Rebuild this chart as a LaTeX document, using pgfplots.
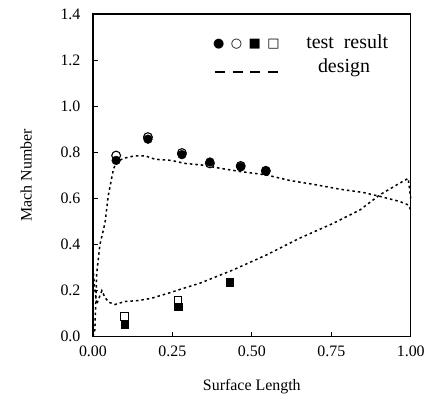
\documentclass[border=0pt]{standalone}
\usepackage{pgfplots}
\pgfplotsset{compat=1.18}
\usepackage{fontspec}
\setmainfont{Liberation Serif}
\newfontfamily\symfont{DejaVu Sans}
\begin{document}
\begin{tikzpicture}
\begin{axis}[
  scale only axis,
  width=318bp, height=323bp,
  xmin=0, xmax=1, ymin=0, ymax=1.4,
  xtick={0,0.25,0.5,0.75,1},
  ytick={0,0.2,0.4,0.6,0.8,1.0,1.2,1.4},
  /pgf/number format/assume math mode=true,
  tick align=inside,
  xtick pos=bottom, ytick pos=left,
  major tick length=5bp,
  tick style={black, line width=0.8bp},
  axis line style={line width=1.2bp},
  ticklabel style={font=\fontsize{16}{18}\selectfont},
  xticklabel style={yshift=-6bp, /pgf/number format/.cd,fixed,fixed zerofill,precision=2},
  yticklabel style={xshift=-9bp, /pgf/number format/.cd,fixed,fixed zerofill,precision=1},
  label style={font=\fontsize{16}{18}\selectfont},
  xlabel={Surface Length},
  ylabel={Mach Number},
  xlabel style={yshift=-15bp},
  ylabel style={yshift=22bp},
  clip=false,
]
% design upper surface
\addplot[black, line width=1.5bp, dash pattern=on 2.5bp off 3bp] coordinates {
(0.0,0.0) (0.006,0.03) (0.012,0.276) (0.022,0.40) (0.038,0.494) (0.048,0.61)
(0.064,0.724) (0.074,0.76) (0.10,0.775) (0.132,0.785) (0.164,0.785) (0.195,0.77)
(0.247,0.765) (0.289,0.752) (0.342,0.745) (0.40,0.731) (0.462,0.717) (0.546,0.702)
(0.619,0.678) (0.703,0.659) (0.777,0.64) (0.85,0.626) (0.903,0.609) (0.965,0.587)
(0.992,0.572) (1.0,0.55)
};
% design lower surface
\addplot[black, line width=1.5bp, dash pattern=on 2.5bp off 3bp] coordinates {
(0.0,0.30) (0.006,0.204) (0.012,0.14) (0.017,0.16) (0.028,0.2) (0.038,0.17)
(0.05,0.15) (0.069,0.14) (0.10,0.153) (0.142,0.157) (0.184,0.167) (0.237,0.189)
(0.289,0.212) (0.336,0.232) (0.441,0.29) (0.546,0.355) (0.651,0.428) (0.756,0.492)
(0.84,0.55) (0.903,0.616) (0.965,0.666) (0.992,0.687) (1.0,0.60)
};
% test result: open circles
\addplot[only marks, mark=*, mark size=4.4bp, mark options={fill=white, draw=black, line width=1.1bp}] coordinates {
(0.073,0.786) (0.173,0.866) (0.28,0.797) (0.368,0.752) (0.465,0.741) (0.544,0.72)
};
% test result: filled circles
\addplot[only marks, mark=*, mark size=4.4bp, mark options={fill=black, draw=black}] coordinates {
(0.073,0.765) (0.173,0.857) (0.28,0.79) (0.368,0.758) (0.465,0.737) (0.544,0.718)
};
% open squares
\addplot[only marks, mark=square*, mark size=3.8bp, mark options={fill=white, draw=black, line width=1.1bp}] coordinates {
(0.10,0.087) (0.268,0.158)
};
% filled squares
\addplot[only marks, mark=square*, mark size=3.8bp, mark options={fill=black, draw=black}] coordinates {
(0.10,0.052) (0.268,0.13) (0.43,0.238)
};
% legend
\node[anchor=center, font=\symfont\fontsize{13}{15}\selectfont] at (axis cs:0.483,1.27) {●\enspace○\enspace■\enspace□};
\node[anchor=center, font=\fontsize{20}{22}\selectfont] at (axis cs:0.8,1.28) {test\ \ result};
\node[anchor=center, font=\fontsize{20}{22}\selectfont] at (axis cs:0.79,1.165) {design};
\draw[black, line width=1.8bp, dash pattern=on 10bp off 7.7bp] (axis cs:0.384,1.149) -- (axis cs:0.582,1.149);
\end{axis}
\path (current axis.south west) ++(-93bp,-62bp) rectangle ++(428bp,399bp);
\end{tikzpicture}
\end{document}
